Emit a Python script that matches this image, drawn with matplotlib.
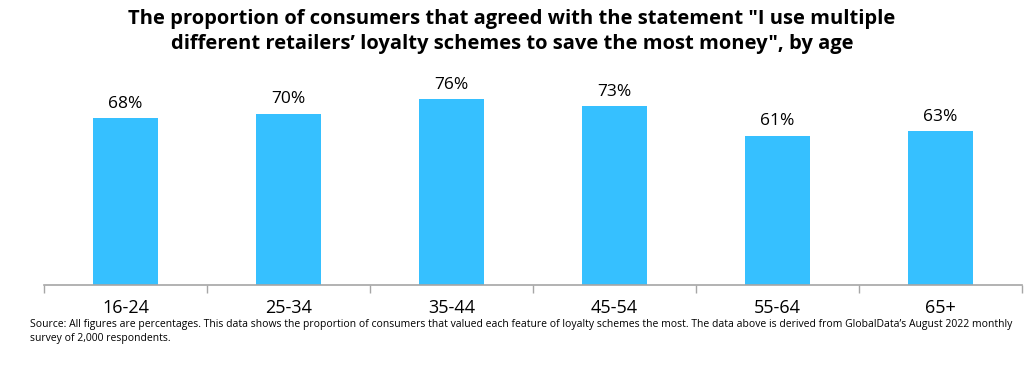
import numpy as np
import matplotlib.pyplot as plt

plt.rcParams['font.family'] = ['Open Sans', 'DejaVu Sans']

age_groups = ['16-24', '25-34', '35-44', '45-54', '55-64', '65+']
agreed_pct = [68, 70, 76, 73, 61, 63]

fig = plt.figure(figsize=(10.24, 3.65), dpi=100)
ax = fig.add_axes([0.043, 0.219, 0.955, 0.537])

x = np.arange(len(age_groups))
bars = ax.bar(x, agreed_pct, width=0.4, color='#36C0FF')

# value labels above bars
for xi, v in zip(x, agreed_pct):
    ax.text(xi, v + 2.5, f'{v}%', ha='center', va='bottom', fontsize=12.5, color='#000000')

ax.set_xlim(-0.5, len(age_groups) - 0.5)
ax.set_ylim(0, 80)
ax.set_yticks([])
ax.set_xticks(x)
ax.set_xticklabels(age_groups, fontsize=13)
ax.tick_params(axis='x', which='major', length=0, pad=10)
ax.set_xticks(np.arange(-0.5, len(age_groups)), minor=True)
ax.tick_params(axis='x', which='minor', length=6, color='#A6A6A6', width=1)

for s in ['top', 'right', 'left']:
    ax.spines[s].set_visible(False)
ax.spines['bottom'].set_color('#A6A6A6')
ax.spines['bottom'].set_linewidth(1.2)

fig.text(0.5, 0.975,
         'The proportion of consumers that agreed with the statement "I use multiple\n'
         'different retailers\u2019 loyalty schemes to save the most money", by age',
         ha='center', va='top', fontsize=14.5, fontweight='bold', linespacing=1.35)

fig.text(0.029, 0.125,
         'Source: All figures are percentages. This data shows the proportion of consumers that valued each feature of loyalty schemes the most. '
         'The data above is derived from GlobalData\u2019s August 2022 monthly\nsurvey of 2,000 respondents.',
         ha='left', va='top', fontsize=7.5, color='#000000', linespacing=1.35)

fig.savefig('out.png', dpi=100)
